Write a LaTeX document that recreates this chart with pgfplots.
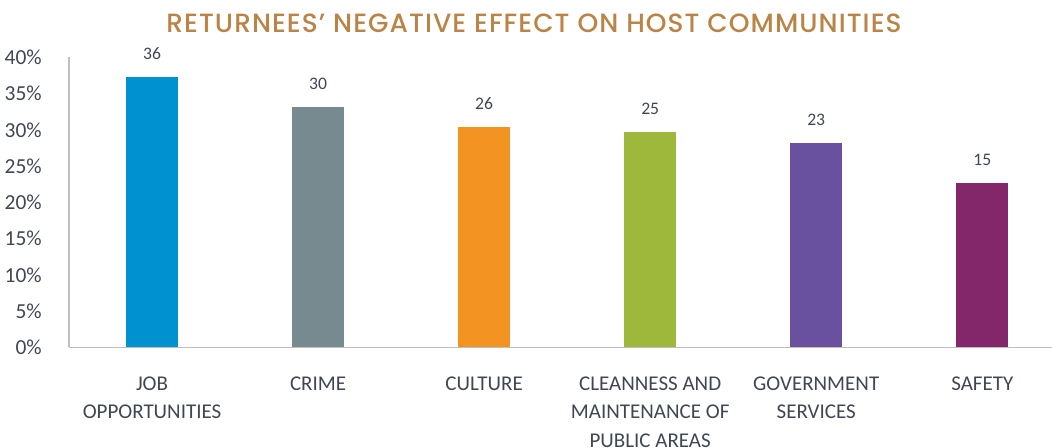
\documentclass[border=0pt]{standalone}
\usepackage{pgfplots}
\pgfplotsset{compat=1.18}
\usepackage{fontspec}
\setmainfont{Carlito}
\newfontfamily\titlefont[LetterSpace=4, UprightFont={* Medium}]{Poppins}
\definecolor{TxtGray}{HTML}{404653}
\definecolor{AxGray}{HTML}{BFBFBF}
\definecolor{TitleGold}{HTML}{B98446}
\definecolor{cJob}{HTML}{0091D0}
\definecolor{cCrime}{HTML}{778A8F}
\definecolor{cCulture}{HTML}{F39322}
\definecolor{cClean}{HTML}{9DB83A}
\definecolor{cGov}{HTML}{6A51A0}
\definecolor{cSafety}{HTML}{84266A}

\begin{document}
\begin{tikzpicture}
  \path[use as bounding box] (0,0) rectangle (526pt,224pt);
  \node[anchor=base, text=TitleGold, font=\titlefont\fontsize{13.2}{15}\selectfont]
    at (267pt,207.5pt) {RETURNEES’ NEGATIVE EFFECT ON HOST COMMUNITIES};
  \begin{axis}[
      at={(34.5pt,50.35pt)}, anchor=south west,
      scale only axis, width=491.5pt, height=145pt,
      ybar, bar width=26pt,
      xmin=-0.5, xmax=5.42, ymin=0, ymax=40,
      axis lines=left,
      axis line style={draw=AxGray, line width=0.7pt, -},
      tick style={draw=none},
      ytick={0,5,...,40},
      yticklabels={0\%,5\%,10\%,15\%,20\%,25\%,30\%,35\%,40\%},
      yticklabel style={font=\fontsize{10.7}{12}\selectfont, text=TxtGray, xshift=-8pt},
      xtick={0,...,5},
      xticklabels={{JOB\\OPPORTUNITIES},{CRIME},{CULTURE},{CLEANNESS AND\\MAINTENANCE OF\\PUBLIC AREAS},{GOVERNMENT\\SERVICES},{SAFETY}},
      xticklabel style={align=center, font=\fontsize{10.5}{14.3}\selectfont, text=TxtGray, yshift=-9pt},
      nodes near coords,
      point meta=explicit symbolic,
      every node near coord/.style={anchor=base, yshift=8.5pt, font=\fontsize{8.8}{10}\selectfont, text=TxtGray},
      clip=false,
    ]
    \addplot[fill=cJob, draw=none, bar shift=0pt] coordinates {(0,37.3) [36]};
    \addplot[fill=cCrime, draw=none, bar shift=0pt] coordinates {(1,33.2) [30]};
    \addplot[fill=cCulture, draw=none, bar shift=0pt] coordinates {(2,30.4) [26]};
    \addplot[fill=cClean, draw=none, bar shift=0pt] coordinates {(3,29.7) [25]};
    \addplot[fill=cGov, draw=none, bar shift=0pt] coordinates {(4,28.2) [23]};
    \addplot[fill=cSafety, draw=none, bar shift=0pt] coordinates {(5,22.7) [15]};
  \end{axis}
\end{tikzpicture}
\end{document}
